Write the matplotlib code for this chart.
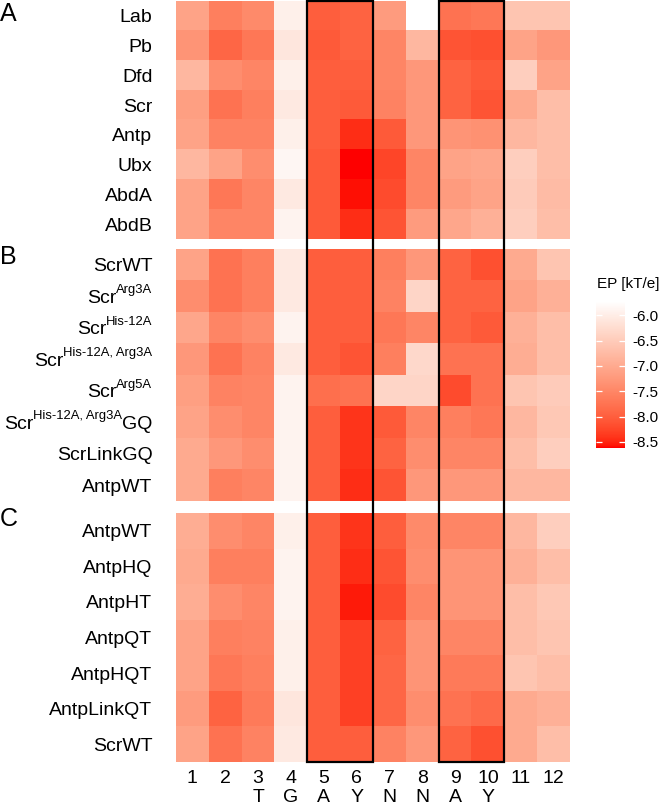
import numpy as np
import matplotlib
matplotlib.use("Agg")
import matplotlib.pyplot as plt
from matplotlib.colors import ListedColormap, Normalize
from matplotlib.patches import Rectangle
import matplotlib.transforms as mtransforms

plt.rcParams['font.family'] = ['Liberation Sans', 'DejaVu Sans']
plt.rcParams['axes.unicode_minus'] = False

# ---------------- data ----------------
positions = ["1", "2", "3", "4", "5", "6", "7", "8", "9", "10", "11", "12"]
bases = ["", "", "T", "G", "A", "Y", "N", "N", "A", "Y", "", ""]

rows_A = ["Lab", "Pb", "Dfd", "Scr", "Antp", "Ubx", "AbdA", "AbdB"]
vals_A = [
    [-7.10, -7.60, -7.45, -5.95, -8.00, -7.95, -7.20, np.nan, -7.75, -7.70, -6.60, -6.60],
    [-7.30, -7.90, -7.70, -6.10, -8.05, -7.95, -7.50, -6.80, -8.10, -8.15, -7.10, -7.25],
    [-6.80, -7.40, -7.50, -5.95, -8.00, -8.00, -7.50, -7.25, -7.95, -8.05, -6.45, -7.10],
    [-7.15, -7.75, -7.60, -6.05, -8.00, -8.05, -7.55, -7.25, -7.95, -8.10, -7.00, -6.70],
    [-7.10, -7.55, -7.55, -5.95, -8.00, -8.45, -8.05, -7.25, -7.30, -7.35, -6.80, -6.70],
    [-6.80, -7.10, -7.40, -5.85, -8.05, -8.62, -8.25, -7.50, -7.10, -7.05, -6.45, -6.70],
    [-7.10, -7.70, -7.50, -6.05, -8.05, -8.58, -8.20, -7.50, -7.20, -7.10, -6.50, -6.75],
    [-7.10, -7.50, -7.50, -5.90, -8.05, -8.45, -8.10, -7.20, -7.05, -6.90, -6.45, -6.70],
]

# each label: (base, superscript, tail)
rows_B = [("ScrWT", "", ""),
          ("Scr", "Arg3A", ""),
          ("Scr", "His-12A", ""),
          ("Scr", "His-12A, Arg3A", ""),
          ("Scr", "Arg5A", ""),
          ("Scr", "His-12A, Arg3A", "GQ"),
          ("ScrLinkGQ", "", ""),
          ("AntpWT", "", "")]
vals_B = [
    [-7.10, -7.75, -7.60, -6.05, -8.00, -8.00, -7.60, -7.25, -7.95, -8.15, -7.00, -6.60],
    [-7.40, -7.75, -7.60, -6.05, -8.00, -8.00, -7.55, -6.35, -7.95, -7.95, -7.10, -6.90],
    [-7.05, -7.50, -7.40, -5.90, -8.00, -8.00, -7.70, -7.50, -7.95, -8.05, -6.90, -6.70],
    [-7.25, -7.75, -7.55, -6.05, -8.00, -8.10, -7.60, -6.30, -7.75, -7.75, -6.95, -6.70],
    [-7.15, -7.55, -7.50, -5.90, -7.80, -7.75, -6.35, -6.35, -8.20, -7.75, -6.60, -6.50],
    [-7.10, -7.40, -7.50, -5.90, -8.00, -8.40, -8.05, -7.50, -7.60, -7.70, -6.80, -6.55],
    [-7.00, -7.25, -7.40, -5.90, -8.00, -8.40, -7.95, -7.40, -7.50, -7.50, -6.70, -6.45],
    [-7.00, -7.60, -7.50, -5.90, -8.00, -8.45, -8.10, -7.25, -7.25, -7.25, -6.80, -6.80],
]

rows_C = ["AntpWT", "AntpHQ", "AntpHT", "AntpQT", "AntpHQT", "AntpLinkQT", "ScrWT"]
vals_C = [
    [-6.95, -7.40, -7.50, -5.95, -8.00, -8.40, -8.00, -7.45, -7.50, -7.50, -6.80, -6.45],
    [-7.00, -7.60, -7.60, -5.90, -8.00, -8.45, -8.10, -7.40, -7.30, -7.30, -6.90, -6.70],
    [-6.95, -7.40, -7.50, -5.90, -8.00, -8.55, -8.20, -7.50, -7.30, -7.30, -6.70, -6.55],
    [-7.10, -7.60, -7.55, -5.95, -8.00, -8.30, -7.95, -7.30, -7.50, -7.50, -6.70, -6.60],
    [-7.10, -7.70, -7.60, -5.95, -8.00, -8.30, -7.90, -7.30, -7.65, -7.65, -6.60, -6.70],
    [-7.20, -7.95, -7.65, -6.10, -8.00, -8.30, -7.90, -7.40, -7.75, -7.85, -7.00, -6.90],
    [-7.10, -7.75, -7.55, -6.05, -8.00, -8.00, -7.55, -7.25, -7.95, -8.15, -7.00, -6.70],
]

panel_letters = ["A", "B", "C"]
boxed_cols = [(5, 6), (9, 10)]
cbar_ticks = [-6.0, -6.5, -7.0, -7.5, -8.0, -8.5]
vmin, vmax = -8.62, -5.72

# ---------------- colormap (Lab interpolation white -> red) ----------------
def srgb_to_lab(rgb):
    rgb = np.asarray(rgb, float)
    lin = np.where(rgb <= 0.04045, rgb / 12.92, ((rgb + 0.055) / 1.055) ** 2.4)
    M = np.array([[0.4124, 0.3576, 0.1805],
                  [0.2126, 0.7152, 0.0722],
                  [0.0193, 0.1192, 0.9505]])
    xyz = M @ lin
    white = np.array([0.95047, 1.0, 1.08883])
    t = xyz / white
    f = np.where(t > (6 / 29) ** 3, np.cbrt(t), t / (3 * (6 / 29) ** 2) + 4 / 29)
    return np.array([116 * f[1] - 16, 500 * (f[0] - f[1]), 200 * (f[1] - f[2])])

def lab_to_srgb(lab):
    L, a, b = lab
    fy = (L + 16) / 116
    fx = fy + a / 500
    fz = fy - b / 200
    def finv(f):
        return np.where(f > 6 / 29, f ** 3, 3 * (6 / 29) ** 2 * (f - 4 / 29))
    white = np.array([0.95047, 1.0, 1.08883])
    xyz = np.array([finv(fx), finv(fy), finv(fz)]) * white
    Minv = np.array([[3.2406, -1.5372, -0.4986],
                     [-0.9689, 1.8758, 0.0415],
                     [0.0557, -0.2040, 1.0570]])
    lin = Minv @ xyz
    lin = np.clip(lin, 0, 1)
    rgb = np.where(lin <= 0.0031308, 12.92 * lin, 1.055 * lin ** (1 / 2.4) - 0.055)
    return np.clip(rgb, 0, 1)

lab_lo = srgb_to_lab([1.0, 0.0, 0.0])
lab_hi = srgb_to_lab([1.0, 1.0, 1.0])
cols = [lab_to_srgb(lab_lo + (lab_hi - lab_lo) * s) for s in np.linspace(0, 1, 256)]
cmap = ListedColormap(cols)
cmap.set_bad("white")
norm = Normalize(vmin=vmin, vmax=vmax)

# ---------------- figure ----------------
W, H = 661, 808
DPI = 100
fig = plt.figure(figsize=(W / DPI, H / DPI), dpi=DPI)

def px_axes(x0, y0, x1, y1):
    return fig.add_axes([x0 / W, 1 - y1 / H, (x1 - x0) / W, (y1 - y0) / H])

panel_px = [(176, 1, 570, 239), (176, 249, 570, 501), (176, 513, 570, 762)]
panel_rows = [rows_A, rows_B, rows_C]
panel_vals = [vals_A, vals_B, vals_C]
letter_y = [2, 245, 507]

LABEL_FS = 14
SUP_FS = 9.4
LABEL_PAD_PT = 17

axes = []
for i, (box, rows, vals) in enumerate(zip(panel_px, panel_rows, panel_vals)):
    ax = px_axes(*box)
    data = np.ma.masked_invalid(np.array(vals, float))
    ax.imshow(data, cmap=cmap, norm=norm, aspect="auto", interpolation="nearest",
              extent=(0.5, len(positions) + 0.5, len(rows) - 0.5, -0.5))
    ax.set_xlim(0.5, len(positions) + 0.5)
    ax.set_ylim(len(rows) - 0.5, -0.5)
    ax.set_yticks(range(len(rows)))
    labels = [r if isinstance(r, str) else (r[0] if not r[1] else "") for r in rows]
    ax.set_yticklabels(labels, fontsize=LABEL_FS)
    ax.tick_params(axis="y", length=0, pad=LABEL_PAD_PT)
    if i == 2:
        ax.set_xticks(range(1, len(positions) + 1))
        ax.set_xticklabels([f"{p}\n{b}" for p, b in zip(positions, bases)],
                           fontsize=LABEL_FS, linespacing=1.1, va="top")
        ax.tick_params(axis="x", length=0, pad=6)
    else:
        ax.set_xticks([])
    for s in ax.spines.values():
        s.set_visible(False)
    fig.text(0 / W, 1 - letter_y[i] / H, panel_letters[i], fontsize=18, va="top", ha="left")
    axes.append(ax)

# labels with superscripts (panel B), assembled right-to-left
fig.canvas.draw()
renderer = fig.canvas.get_renderer()
axB = axes[1]
blend = mtransforms.blended_transform_factory(axB.transAxes, axB.transData)
for r, lab in enumerate(rows_B):
    base, sup, tail = lab
    if not sup:
        continue
    acc_px = LABEL_PAD_PT * DPI / 72.0
    pieces = []
    if tail:
        pieces.append((tail, LABEL_FS, 0.0))
    pieces.append((sup, SUP_FS, 5.3))
    pieces.append((base, LABEL_FS, 0.0))
    for txt, fs, dy in pieces:
        tr = blend + mtransforms.ScaledTranslation(-acc_px / DPI, dy / 72.0, fig.dpi_scale_trans)
        t = axB.text(0, r, txt, transform=tr, ha="right", va="center_baseline",
                     fontsize=fs, clip_on=False)
        w = t.get_window_extent(renderer).width
        acc_px += w

# overlay for boxes spanning all panels
ov = px_axes(176, 1, 570, 762)
ov.set_xlim(0.5, len(positions) + 0.5)
ov.set_ylim(0, 1)
ov.axis("off")
ov.patch.set_alpha(0)
for c0, c1 in boxed_cols:
    ov.add_patch(Rectangle((c0 - 0.5, 0), c1 - c0 + 1, 1, fill=False,
                           edgecolor="black", linewidth=1.6, clip_on=False))

# colorbar
cax = px_axes(596, 301, 625, 448)
sm = matplotlib.cm.ScalarMappable(norm=norm, cmap=cmap)
cb = fig.colorbar(sm, cax=cax)
cb.outline.set_visible(False)
cb.set_ticks(cbar_ticks)
cb.set_ticklabels([f"{t:.1f}" for t in cbar_ticks])
cax.tick_params(axis="y", direction="in", left=True, right=True, length=4.5,
                width=0.9, color="white", labelsize=11, pad=5)
fig.text(597 / W, 1 - 277 / H, "EP [kT/e]", fontsize=11, va="top", ha="left")

fig.savefig("out.png", dpi=DPI)
